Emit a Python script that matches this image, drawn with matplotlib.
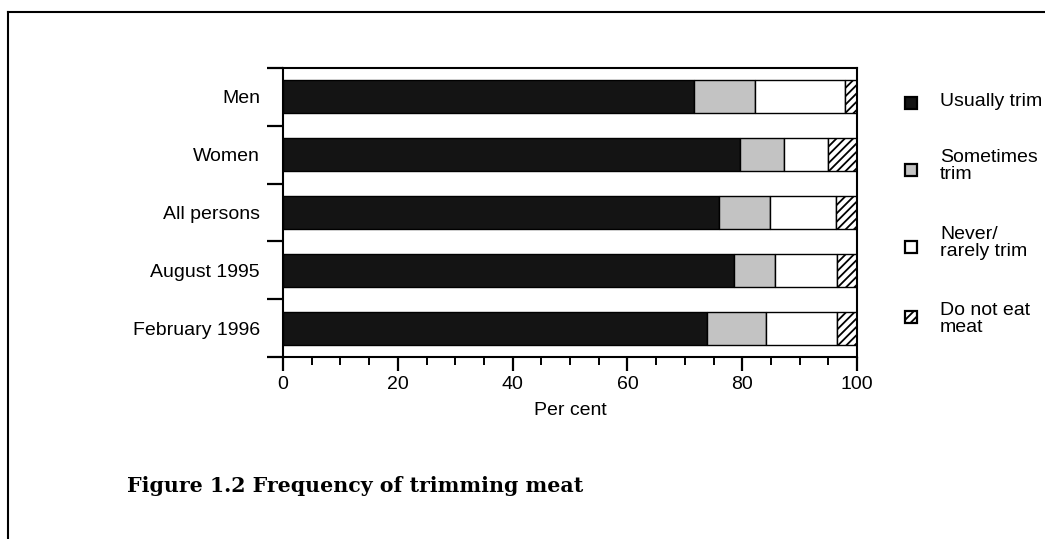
import numpy as np
import matplotlib
matplotlib.use("Agg")
import matplotlib.pyplot as plt
from matplotlib.patches import Rectangle
from matplotlib.lines import Line2D
from matplotlib.ticker import MultipleLocator, FixedLocator

plt.rcParams.update(
    {
        "font.family": "Liberation Sans",
        "font.size": 14,
        "hatch.linewidth": 1.3,
    }
)

groups = ["Men", "Women", "All persons", "August 1995", "February 1996"]
usually = [71.6, 79.6, 76.0, 78.5, 73.8]
sometimes = [10.6, 7.7, 8.8, 7.3, 10.3]
never = [15.7, 7.7, 11.5, 10.7, 12.4]
no_meat = [2.1, 5.0, 3.7, 3.5, 3.5]

legend_labels = ["Usually trim", "Sometimes\ntrim", "Never/\nrarely trim", "Do not eat\nmeat"]
styles = [
    dict(facecolor="#141414", hatch=None),
    dict(facecolor="#c3c3c3", hatch=None),
    dict(facecolor="white", hatch=None),
    dict(facecolor="white", hatch="////"),
]

W, H = 1045, 539
fig = plt.figure(figsize=(W / 100, H / 100), dpi=100)
ax = fig.add_axes([283 / W, 1 - 357 / H, (857 - 283) / W, (357 - 68) / H])

y = np.arange(len(groups))[::-1]
left = np.zeros(len(groups))
for vals, st in zip([usually, sometimes, never, no_meat], styles):
    ax.barh(y, vals, left=left, height=0.57, edgecolor="black", linewidth=1.0, **st)
    left += np.array(vals)

ax.set_xlim(0, 100)
ax.set_ylim(-0.5, len(groups) - 0.5)

ax.set_yticks(y)
ax.set_yticklabels(groups)
ax.yaxis.set_minor_locator(FixedLocator(np.arange(-0.5, len(groups), 1.0)))
ax.tick_params(axis="y", which="major", length=0, pad=16.5)
ax.tick_params(axis="y", which="minor", length=11.5, width=1.6, direction="out")

ax.xaxis.set_major_locator(MultipleLocator(20))
ax.xaxis.set_minor_locator(MultipleLocator(5))
ax.tick_params(axis="x", which="major", length=10, width=1.6, direction="out", pad=4)
ax.tick_params(axis="x", which="minor", length=6, width=1.4, direction="out")
ax.set_xlabel("Per cent", labelpad=6)

for s in ax.spines.values():
    s.set_linewidth(1.5)

# legend keys drawn by hand so the multi-line labels sit as in the original
key_y = [103, 170, 247, 317]
text_y = [102, 166, 243, 319]
for lab, st, ky, ty in zip(legend_labels, styles, key_y, text_y):
    fig.add_artist(
        Rectangle(
            (905 / W, 1 - (ky + 6) / H),
            12 / W,
            12 / H,
            transform=fig.transFigure,
            edgecolor="black",
            linewidth=1.6,
            **st,
        )
    )
    fig.text(940 / W, 1 - ty / H, lab, ha="left", va="center", fontsize=14, linespacing=1.0)

fig.text(
    127 / W,
    1 - 486 / H,
    "Figure 1.2 Frequency of trimming meat",
    family="DejaVu Serif",
    weight="bold",
    fontsize=14.8,
    ha="left",
    va="center",
)

# page frame
fig.add_artist(Line2D([8 / W, 8 / W], [0, 1 - 12 / H], color="black", lw=1.5, transform=fig.transFigure))
fig.add_artist(Line2D([8 / W, 1], [1 - 12 / H, 1 - 12 / H], color="black", lw=1.5, transform=fig.transFigure))

fig.savefig("out.png", dpi=100)
